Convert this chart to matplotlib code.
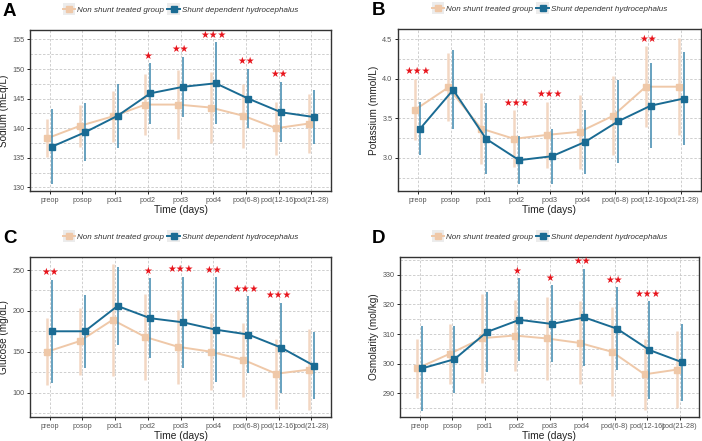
import matplotlib
matplotlib.use('Agg')

import numpy as np
import matplotlib.pyplot as plt
from matplotlib.lines import Line2D
from matplotlib.patches import Rectangle
from matplotlib.legend_handler import HandlerLine2D
from matplotlib.ticker import MultipleLocator

plt.rcParams['font.family'] = ['Liberation Sans', 'DejaVu Sans']

# data (mean and SD per time point)
categories = ['preop', 'posop', 'pod1', 'pod2', 'pod3', 'pod4',
              'pod(6-8)', 'pod(12-16)', 'pod(21-28)']
groups = ['Non shunt treated group', 'Shunt dependent hydrocephalus']

sodium_non_mean = [138.3, 140.4, 142.0, 144.0, 144.0, 143.5, 142.1, 140.0, 140.8]
sodium_non_sd = [3.2, 3.5, 4.3, 5.2, 5.8, 6.0, 5.4, 4.5, 5.0]
sodium_shunt_mean = [136.9, 139.3, 142.1, 145.9, 147.0, 147.6, 145.0, 142.7, 141.9]
sodium_shunt_sd = [6.3, 4.9, 5.4, 5.1, 5.1, 6.9, 5.0, 5.1, 4.6]
sodium_stars = ['', '', '', '*', '**', '***', '**', '**', '']

potassium_non_mean = [3.61, 3.89, 3.37, 3.24, 3.29, 3.33, 3.53, 3.90, 3.90]
potassium_non_sd = [0.39, 0.43, 0.45, 0.36, 0.42, 0.47, 0.50, 0.51, 0.61]
potassium_shunt_mean = [3.37, 3.86, 3.24, 2.97, 3.02, 3.20, 3.46, 3.66, 3.75]
potassium_shunt_sd = [0.33, 0.50, 0.45, 0.30, 0.35, 0.41, 0.53, 0.54, 0.59]
potassium_stars = ['***', '', '', '***', '***', '', '', '**', '']

glucose_non_mean = [150, 163, 189, 168, 156, 150, 140, 123, 128]
glucose_non_sd = [41, 41, 69, 53, 45, 47, 45, 43, 50]
glucose_shunt_mean = [175, 175, 206, 191, 186, 177, 171, 155, 133]
glucose_shunt_sd = [63, 45, 48, 49, 56, 64, 47, 55, 41]
glucose_stars = ['**', '', '', '*', '***', '**', '***', '***', '']

osmo_non_mean = [298.4, 303.3, 308.6, 309.5, 308.5, 307.0, 304.0, 296.4, 298.0]
osmo_non_sd = [10, 10, 15, 12, 14, 14, 15, 12, 13]
osmo_shunt_mean = [298.4, 301.5, 310.7, 314.8, 313.4, 315.6, 311.8, 304.6, 300.5]
osmo_shunt_sd = [14.3, 11.3, 13.5, 14.0, 13.0, 16.4, 14.0, 16.5, 13.0]
osmo_stars = ['', '', '', '*', '*', '**', '**', '***', '']

TAN = '#efc8a8'
TAN_ERR = '#f3d7c2'
BLUE = '#1a6b93'
BLUE_ERR = '#3d87ad'
W, H = 702, 441


class KeyHandler(HandlerLine2D):
    # ggplot style key: grey square behind line + marker
    def create_artists(self, legend, orig_handle, xdescent, ydescent,
                       width, height, fontsize, trans):
        bg = Rectangle((-xdescent, -ydescent - 2), width, height + 4,
                       facecolor='#ececec', edgecolor='none', transform=trans)
        arts = super().create_artists(legend, orig_handle, xdescent, ydescent,
                                      width, height, fontsize, trans)
        return [bg] + list(arts)


def panel(fig, box, letter, letter_x, ylabel, nm, ns, sm, ss, stars, ylim, step):
    l, t, r, b = box
    ax = fig.add_axes([l / W, 1 - b / H, (r - l) / W, (b - t) / H])
    x = np.arange(len(categories))
    d = 0.075
    ax.errorbar(x - d, nm, yerr=ns, color=TAN, ecolor=TAN_ERR, lw=1.4,
                elinewidth=1.8, marker='s', ms=4.6, capsize=0, zorder=3)
    ax.errorbar(x + d, sm, yerr=ss, color=BLUE, ecolor=BLUE_ERR, lw=1.4,
                elinewidth=1.1, marker='s', ms=4.6, capsize=0, zorder=4)
    upper = np.maximum(np.array(nm) + np.array(ns), np.array(sm) + np.array(ss))
    for i, s in enumerate(stars):
        if s:
            ax.annotate('\u2605' * len(s), (x[i], upper[i]), xytext=(0, 5.5),
                        textcoords='offset points', ha='center', va='center',
                        color='#e8141c', fontsize=7, family=['DejaVu Sans'],
                        zorder=5)
    ax.set_xlim(-0.6, 8.6)
    ax.set_ylim(*ylim)
    ax.set_xticks(x)
    ax.set_xticklabels(categories)
    ax.yaxis.set_major_locator(MultipleLocator(step))
    ax.yaxis.set_minor_locator(MultipleLocator(step / 2))
    ax.grid(which='both', ls=(0, (3, 2)), color='#c8c8c8', lw=0.6)
    ax.set_axisbelow(True)
    ax.tick_params(axis='both', which='major', labelsize=5.2,
                   labelcolor='#555555', length=2, width=0.6, pad=2)
    ax.tick_params(axis='y', which='minor', length=0)
    for sp in ax.spines.values():
        sp.set_color('#333333')
        sp.set_linewidth(1.0)
    ax.set_xlabel('Time (days)', fontsize=7.4, labelpad=1, color='#222222')
    ax.set_ylabel(ylabel, fontsize=7.2, labelpad=2.5, color='#222222')

    fig.text(letter_x / W, 1 - (t - 27) / H, letter, fontsize=13.5,
             fontweight='bold', ha='left', va='top')
    handles = [Line2D([], [], color=TAN, lw=1.4, marker='s', ms=4.6),
               Line2D([], [], color=BLUE, lw=1.4, marker='s', ms=4.6)]
    fig.legend(handles, groups, loc='center',
               bbox_to_anchor=((l + r) / 2 / W, 1 - (t - 20) / H),
               ncol=2, frameon=False, handler_map={Line2D: KeyHandler()},
               prop={'style': 'italic', 'size': 5.8}, handlelength=1.5,
               handletextpad=0.3, columnspacing=0.4, labelcolor='#333333')
    return ax


fig = plt.figure(figsize=(W / 100, H / 100), dpi=100)

axA = panel(fig, (30, 30, 331, 191), 'A', 3, 'Sodium (mEq/L)',
            sodium_non_mean, sodium_non_sd, sodium_shunt_mean, sodium_shunt_sd,
            sodium_stars, (129.4, 156.6), 5)
axB = panel(fig, (398, 29, 701, 191), 'B', 372, 'Potassium (mmol/L)',
            potassium_non_mean, potassium_non_sd, potassium_shunt_mean,
            potassium_shunt_sd, potassium_stars, (2.58, 4.63), 0.5)
axC = panel(fig, (30, 257, 331, 417), 'C', 3, 'Glucose (mg/dL)',
            glucose_non_mean, glucose_non_sd, glucose_shunt_mean,
            glucose_shunt_sd, glucose_stars, (70, 266), 50)
axD = panel(fig, (400, 257, 699, 417), 'D', 372, 'Osmolarity (mol/kg)',
            osmo_non_mean, osmo_non_sd, osmo_shunt_mean, osmo_shunt_sd,
            osmo_stars, (282, 336), 10)

fig.savefig('out.png', dpi=100)
